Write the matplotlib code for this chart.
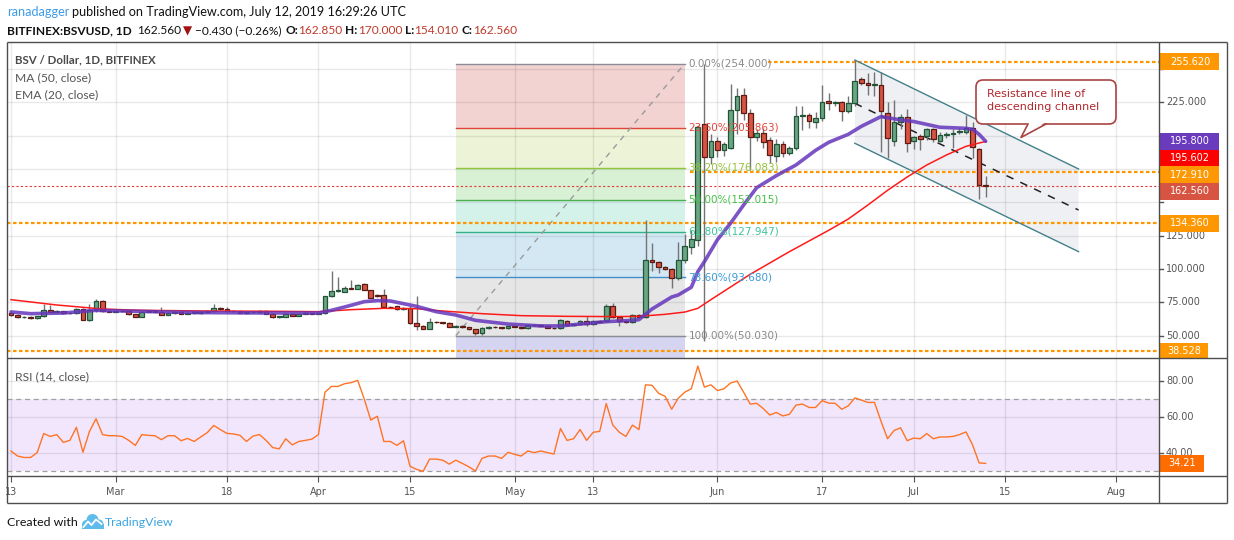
import numpy as np
import pandas as pd
import matplotlib
matplotlib.use("Agg")
import matplotlib.pyplot as plt
import matplotlib.dates as mdates
from matplotlib.patches import Rectangle, Polygon, FancyBboxPatch, Circle

# BITFINEX:BSVUSD, 1D candles
dates = pd.date_range("2019-02-13", "2019-07-12", freq="D")
opens = [67.0, 65.5, 63.8, 64.0, 63.0, 64.5, 69.0, 68.0, 68.3, 66.8,
         67.0, 70.0, 61.5, 69.0, 76.0, 68.5, 68.0, 68.5, 68.3, 66.0,
         64.2, 68.0, 68.1, 68.0, 65.8, 67.0, 68.0, 66.3, 67.0, 67.2,
         67.5, 68.5, 70.5, 70.0, 68.5, 68.3, 67.3, 67.5, 67.6, 68.5,
         66.5, 64.0, 64.2, 66.5, 65.0, 66.5, 66.6, 66.5, 67.0, 79.5,
         83.3, 83.0, 85.5, 85.3, 88.5, 84.0, 80.5, 80.5, 71.5, 72.0,
         70.0, 71.0, 59.5, 57.5, 55.3, 60.3, 60.0, 59.8, 56.8, 57.5,
         56.3, 54.8, 51.8, 55.5, 56.5, 56.2, 55.5, 57.0, 56.8, 55.5,
         57.8, 58.0, 57.3, 56.0, 55.5, 61.3, 58.0, 58.5, 61.3, 58.5,
         61.3, 61.0, 72.0, 64.0, 61.3, 60.3, 65.3, 63.8, 106.8, 105.3,
         101.5, 99.8, 93.0, 106.8, 116.5, 122.0, 208.5, 183.8, 196.3, 189.3,
         190.8, 219.0, 230.3, 217.0, 198.8, 202.3, 196.5, 185.0, 194.0, 186.8,
         190.5, 214.5, 215.5, 210.5, 213.0, 226.3, 224.3, 225.5, 218.8, 224.3,
         242.3, 239.3, 238.0, 238.0, 217.3, 196.3, 210.5, 214.3, 196.3, 199.8,
         199.8, 204.8, 196.3, 200.5, 201.0, 203.0, 203.0, 205.5, 189.8, 162.85]
highs = [68.0, 66.0, 64.5, 64.5, 65.0, 74.0, 73.0, 69.0, 68.5, 67.5,
         70.5, 71.0, 73.5, 77.5, 77.0, 69.0, 69.0, 69.0, 68.8, 66.5,
         68.5, 68.5, 68.5, 71.5, 68.0, 69.5, 68.5, 67.5, 67.5, 68.0,
         69.0, 73.5, 71.5, 71.5, 69.0, 68.5, 68.5, 68.0, 69.0, 69.0,
         67.0, 65.0, 67.0, 67.0, 67.0, 68.5, 67.0, 67.5, 80.0, 98.5,
         94.0, 87.5, 91.5, 89.0, 89.5, 84.5, 81.5, 85.0, 72.0, 72.5,
         71.5, 72.0, 80.0, 58.0, 63.0, 61.0, 60.5, 60.0, 58.0, 58.0,
         56.8, 55.0, 56.5, 57.0, 57.0, 56.8, 57.5, 57.5, 57.5, 58.5,
         58.5, 58.5, 57.8, 56.5, 62.5, 62.0, 59.0, 62.0, 64.5, 62.0,
         62.0, 73.5, 74.5, 65.0, 62.0, 66.0, 66.0, 136.5, 119.5, 106.0,
         102.5, 100.5, 120.0, 126.5, 129.0, 208.0, 254.0, 201.0, 199.0, 195.0,
         239.0, 236.0, 236.0, 220.0, 205.0, 206.0, 199.0, 197.5, 196.0, 192.0,
         222.0, 222.0, 217.0, 218.0, 238.0, 232.0, 226.0, 226.0, 229.5, 256.8,
         244.0, 246.8, 248.0, 248.0, 225.5, 227.0, 216.0, 220.0, 200.0, 201.0,
         206.0, 206.0, 203.0, 203.0, 205.0, 205.5, 215.5, 210.5, 191.0, 170.0]
lows = [65.0, 63.5, 63.0, 62.5, 62.5, 64.0, 67.5, 67.0, 66.5, 66.0,
        66.5, 61.5, 61.0, 68.0, 68.0, 67.5, 67.5, 67.8, 65.8, 64.0,
        64.0, 67.5, 67.5, 65.5, 65.5, 66.5, 66.0, 66.0, 66.5, 66.5,
        67.0, 68.0, 69.5, 68.0, 67.5, 67.0, 66.5, 67.0, 67.0, 66.0,
        63.5, 63.0, 64.0, 64.5, 64.5, 66.0, 66.0, 66.0, 66.0, 79.0,
        83.0, 82.5, 85.0, 85.0, 84.0, 78.0, 79.0, 71.0, 71.0, 69.5,
        69.5, 58.5, 54.0, 55.0, 55.0, 59.5, 58.5, 56.5, 56.5, 56.0,
        54.5, 50.5, 50.8, 55.0, 55.8, 55.0, 55.0, 56.5, 55.0, 55.0,
        57.0, 57.0, 55.5, 55.0, 55.0, 57.5, 57.0, 58.0, 57.5, 58.0,
        60.0, 60.5, 63.5, 57.5, 59.5, 59.8, 63.0, 63.0, 98.5, 97.0,
        99.0, 86.0, 92.0, 104.5, 111.0, 117.0, 46.0, 179.0, 184.0, 185.0,
        190.0, 201.0, 212.0, 174.0, 196.0, 190.5, 179.5, 180.5, 184.0, 185.5,
        189.0, 204.0, 205.5, 206.0, 211.0, 219.0, 222.0, 211.0, 217.0, 222.0,
        238.0, 230.5, 229.8, 188.0, 183.0, 192.0, 205.0, 188.0, 190.0, 189.3,
        197.0, 195.0, 195.0, 198.0, 190.5, 201.0, 201.0, 183.0, 152.3, 154.01]
closes = [65.5, 63.8, 64.0, 63.0, 64.5, 69.0, 68.0, 68.3, 66.8, 67.0,
          70.0, 62.0, 69.0, 76.0, 68.5, 68.0, 68.5, 68.3, 66.0, 64.2,
          68.0, 68.1, 68.0, 65.8, 67.0, 68.0, 66.3, 67.0, 67.2, 67.5,
          68.5, 70.5, 70.0, 68.5, 68.3, 67.3, 67.5, 67.6, 68.5, 66.5,
          64.0, 64.2, 66.5, 65.0, 66.5, 66.6, 66.5, 67.3, 79.5, 83.3,
          84.0, 85.5, 85.3, 88.0, 84.5, 78.5, 79.5, 71.5, 71.4, 70.0,
          71.0, 59.3, 57.5, 55.3, 60.3, 60.0, 59.8, 56.8, 57.5, 56.3,
          54.8, 51.8, 55.5, 56.5, 56.2, 55.5, 57.0, 56.8, 55.5, 57.8,
          58.0, 57.3, 56.0, 55.5, 61.8, 58.0, 58.5, 61.3, 58.5, 61.3,
          60.5, 72.0, 64.0, 61.3, 60.3, 65.3, 63.8, 106.8, 105.5, 101.3,
          99.8, 93.0, 106.5, 117.0, 122.8, 206.5, 183.8, 196.3, 189.3, 193.5,
          219.3, 229.8, 217.0, 198.8, 202.3, 195.0, 185.5, 193.5, 186.8, 191.0,
          214.5, 215.5, 211.0, 213.0, 225.5, 224.3, 225.5, 218.8, 224.3, 241.3,
          239.8, 238.0, 238.2, 218.8, 198.0, 210.5, 214.3, 194.3, 199.3, 197.3,
          204.8, 197.3, 200.5, 200.5, 201.8, 203.1, 205.5, 191.8, 162.85, 162.56]

# RSI (14, close), one value per candle
rsi = [41.1, 38.3, 37.5, 37.5, 40.2, 50.8, 49.2, 50.2, 45.9, 47.0,
       54.3, 40.4, 52.0, 59.0, 50.2, 49.6, 49.6, 49.2, 47.0, 44.2,
       50.2, 49.8, 49.6, 47.4, 49.6, 49.6, 46.8, 48.1, 46.4, 48.9,
       51.3, 55.3, 53.0, 50.9, 50.6, 49.8, 46.4, 49.4, 50.2, 47.0,
       43.0, 42.3, 47.9, 44.5, 46.4, 47.0, 47.7, 50.2, 73.8, 77.0,
       77.0, 78.5, 79.1, 80.4, 70.0, 58.3, 60.4, 46.4, 46.4, 44.2,
       46.8, 32.6, 30.9, 29.8, 36.6, 36.6, 36.0, 33.8, 36.0, 34.2,
       32.3, 30.0, 37.0, 38.3, 38.3, 37.0, 40.4, 39.2, 38.3, 41.1,
       40.2, 41.1, 40.2, 39.4, 53.6, 47.0, 47.9, 53.0, 47.0, 51.5,
       52.0, 67.5, 55.5, 51.5, 49.2, 55.5, 53.0, 77.9, 77.6, 73.2,
       71.5, 64.3, 70.4, 73.8, 75.7, 88.3, 76.6, 77.9, 74.7, 75.7,
       78.9, 80.0, 73.8, 67.2, 67.6, 64.7, 61.1, 62.5, 60.6, 61.5,
       66.6, 67.2, 65.3, 65.3, 69.1, 67.7, 67.6, 64.3, 66.2, 70.6,
       69.4, 68.1, 68.1, 57.7, 47.9, 52.5, 54.0, 46.8, 48.3, 47.9,
       50.8, 47.9, 48.9, 48.9, 49.2, 50.2, 51.7, 44.5, 34.5, 34.21]

# EMA (20) and MA (50) read as vertices, day offset from first candle
ema_day = [0, 3, 8, 13, 19, 29, 39, 47, 49, 52, 54, 56, 58, 60, 62, 65, 68, 71,
           76, 81, 84, 87, 91, 95, 96, 97, 98, 101, 102, 104, 105, 106, 108, 110,
           112, 114, 117, 120, 123, 125, 128, 130, 133, 136, 138, 142, 146, 147,
           148, 149]
ema_val = [67.8, 66.5, 67.0, 69.0, 68.3, 67.3, 67.0, 67.0, 69.0, 72.8, 75.5, 76.3,
           76.0, 74.0, 72.0, 68.0, 65.5, 61.5, 58.7, 57.3, 57.3, 58.7, 60.5, 61.5,
           62.0, 66.0, 70.0, 79.0, 80.5, 86.3, 98.0, 105.5, 122.0, 134.3, 148.0,
           161.0, 170.0, 178.0, 189.0, 195.0, 201.0, 207.0, 214.3, 211.8, 210.6,
           206.3, 205.5, 204.8, 201.0, 195.8]
ma_day = [0, 7, 14, 20, 30, 40, 47, 52, 57, 62, 66, 72, 78, 85, 92, 96, 100, 103,
          105, 107, 110, 113, 116, 119, 122, 125, 128, 131, 134, 137, 140, 143,
          146, 148, 149]
ma_val = [77.0, 73.0, 70.0, 69.0, 68.5, 68.3, 68.0, 69.5, 70.5, 70.2, 68.5, 66.5,
          65.0, 64.5, 64.3, 64.5, 66.0, 67.7, 70.5, 77.0, 86.5, 96.0, 104.5, 113.0,
          121.0, 129.0, 137.5, 148.0, 159.0, 169.0, 178.0, 185.5, 192.0, 194.5, 195.6]

# Fibonacci retracement drawn 50.030 -> 254.000
fib_start, fib_end = "2019-04-22", "2019-05-27"
fib_pct = ["0.00%", "23.60%", "38.20%", "50.00%", "61.80%", "78.60%", "100.00%"]
fib_price = [254.0, 205.863, 176.083, 152.015, 127.947, 93.68, 50.03]
fib_line_col = ["#8a8d96", "#e0453a", "#8fc43e", "#4caf50", "#34b38a", "#3e8fcb", "#8a8d96"]
fib_text_col = ["#8a8a8a", "#e0453a", "#94c13b", "#45c046", "#3cc49c", "#3a9ad9", "#8a8a8a"]
fib_fill = ["#f3d2d2", "#ecf3d6", "#d8f1d4", "#d4f2ea", "#d4e8f3", "#e6e6e6", "#d6d5f1"]

# horizontal support / resistance levels (None = whole width)
levels = [255.62, 172.91, 134.36, 38.528]
level_from = ["2019-06-08 17:00", "2019-05-27 19:00", None, None]
last_price = 162.56

# descending channel
ch_start, ch_end = "2019-06-22 00:00", "2019-07-26 05:00"
ch_upper = [256.75, 175.0]
ch_lower = [194.3, 113.0]
ch_mid = [224.25, 144.25]

# x axis
tick_dates = ["2019-02-13", "2019-03-01", "2019-03-18", "2019-04-01", "2019-04-15",
              "2019-05-01", "2019-05-13", "2019-06-01", "2019-06-17", "2019-07-01",
              "2019-07-15", "2019-08-01"]
tick_labels = ["13", "Mar", "18", "Apr", "15", "May", "13", "Jun", "17", "Jul", "15", "Aug"]

# right scale badges
badge_vals = [255.62, 195.8, 195.602, 172.91, 162.56, 134.36, 38.528]
badge_cols = ["#ff9800", "#6a3bbd", "#ff0000", "#ff9800", "#d65441", "#ff9800", "#ff9800"]
rsi_last = 34.21

assert len(opens) == len(highs) == len(lows) == len(closes) == len(rsi) == len(dates)

W, H = 1234, 540
fig = plt.figure(figsize=(W / 100, H / 100), dpi=100, facecolor="white")


def px_axes(x0, y0, x1, y1):
    a = fig.add_axes([x0 / W, 1 - y1 / H, (x1 - x0) / W, (y1 - y0) / H])
    for s in a.spines.values():
        s.set_visible(False)
    return a


def dnum(s):
    return mdates.date2num(pd.Timestamp(s))


ax = px_axes(7, 42, 1159, 358)
rax = px_axes(7, 358, 1159, 476)
pscale = px_axes(1159, 42, 1227, 358)
rscale = px_axes(1159, 358, 1227, 476)
ov = fig.add_axes([0, 0, 1, 1])
ov.set_xlim(0, W)
ov.set_ylim(H, 0)
ov.axis("off")
ov.patch.set_alpha(0)
ov.set_zorder(10)

x = mdates.date2num(dates)
x0 = x[0]
xlim = (x0 - 0.61, x0 + 175.5)
p_lim = (33.25, 270.25)
r_lim = (27.2, 92.8)
for a in (ax, rax):
    a.set_xlim(*xlim)
    a.set_yticks([])
ax.set_ylim(*p_lim)
rax.set_ylim(*r_lim)
ax.set_xticks([])

grid_kw = dict(color="black", alpha=0.085, lw=1, zorder=0.8)
tx = [dnum(t) for t in tick_dates]
for t in tx:
    ax.axvline(t, **grid_kw)
    rax.axvline(t, **grid_kw)
for v in range(50, 251, 25):
    ax.axhline(v, **grid_kw)
for v in (40, 60, 80):
    rax.axhline(v, **grid_kw)

# fibonacci box
fx0, fx1 = dnum(fib_start), dnum(fib_end)
bands = fib_price + [p_lim[0] - 5]
for i, col in enumerate(fib_fill):
    ax.fill_between([fx0, fx1], bands[i + 1], bands[i], color=col, lw=0, zorder=0.6)
for pct, p, lc, tc in zip(fib_pct, fib_price, fib_line_col, fib_text_col):
    ax.plot([fx0, fx1], [p, p], color=lc, lw=1, zorder=1)
    ax.text(fx1 + 0.55, p, f"{pct}({p:.3f})", color=tc, fontsize=7.5,
            va="center", ha="left", zorder=7)
ax.plot([fx0, fx1], [fib_price[-1], fib_price[0]], color="#9a9a9a", lw=1,
        dashes=(4, 4), zorder=1)

# levels
for lv, start in zip(levels, level_from):
    s = xlim[0] if start is None else dnum(start)
    ax.plot([s, xlim[1]], [lv, lv], color="#ff9800", lw=1.6, dashes=(1.6, 1.1), zorder=2)
ax.axhline(last_price, color="#e53935", lw=0.8, dashes=(2, 2), zorder=2)

# channel
cx = [dnum(ch_start), dnum(ch_end)]
ax.add_patch(Polygon([(cx[0], ch_upper[0]), (cx[1], ch_upper[1]),
                      (cx[1], ch_lower[1]), (cx[0], ch_lower[0])],
                     closed=True, fc="#eef0f3", ec="none", zorder=0.6))
ax.plot(cx, ch_upper, color="#44808a", lw=1, zorder=2.5)
ax.plot(cx, ch_lower, color="#44808a", lw=1, zorder=2.5)
ax.plot(cx, ch_mid, color="#222222", lw=1.1, dashes=(5, 5), zorder=2.5)

# candles
o, h, l, c = map(np.array, (opens, highs, lows, closes))
up = c >= o
lo = np.minimum(o, c)
hgt = np.maximum(np.abs(c - o), 0.4)
ax.vlines(x, l, h, color="#737375", lw=1, zorder=4)
ax.bar(x[up], hgt[up], bottom=lo[up], width=0.72, color="#6ba583",
       edgecolor="#225437", linewidth=0.9, zorder=5)
ax.bar(x[~up], hgt[~up], bottom=lo[~up], width=0.72, color="#d75442",
       edgecolor="#5b1a13", linewidth=0.9, zorder=5)

# moving averages
ax.plot(x0 + np.array(ma_day), ma_val, color="#ff1a1a", lw=1.1, zorder=6)
ax.plot(x0 + np.array(ema_day), ema_val, color="#6536bb", lw=2.6, alpha=0.85,
        zorder=6, solid_capstyle="round")

# RSI pane
rax.fill_between(list(xlim), 30, 70, color="#b070f0", alpha=0.17, lw=0, zorder=0.5)
for v in (30, 70):
    rax.axhline(v, color="#a0a0a0", lw=0.9, dashes=(4, 3), zorder=1)
rax.plot(x, rsi, color="#ff7424", lw=1, zorder=3)
rax.set_xticks(tx)
rax.set_xticklabels(tick_labels)
rax.tick_params(axis="x", length=4, color="#555555", labelcolor="#555555",
                labelsize=7, pad=4)

# right price scale: badges first, then only the tick labels they do not cover
pscale.set_xlim(0, 68)
pscale.set_ylim(*p_lim)
pscale.set_xticks([])
pscale.set_yticks([])
gap = 12.5
half = 6.3
shown = []
for v in badge_vals:
    y = v if not shown else min(v, shown[-1] - gap)
    shown.append(y)
for v, y, col in zip(badge_vals, shown, badge_cols):
    txt = f"{v:.3f}"
    w = 60 if len(txt) > 6 else 49
    pscale.add_patch(Rectangle((0, y - half), w, 2 * half, fc=col, ec="none", zorder=5))
    pscale.text(w / 2 + 1, y, txt, color="white", fontsize=7, ha="center",
                va="center", zorder=6)
for v in range(50, 251, 25):
    pscale.plot([0, 4], [v, v], color="#555555", lw=1)
    if any(abs(v - y) < half + 2.5 for y in shown):
        continue
    pscale.text(7, v, f"{v:.3f}", fontsize=7, color="#555555", va="center")

rscale.set_xlim(0, 68)
rscale.set_ylim(*r_lim)
rscale.set_xticks([])
rscale.set_yticks([])
for v in (40, 60, 80):
    rscale.plot([0, 4], [v, v], color="#555555", lw=1)
    rscale.text(7, v, f"{v:.2f}", fontsize=7, color="#555555", va="center")
rscale.add_patch(Rectangle((0, rsi_last - 4.6), 45, 9.2, fc="#ff6d00", ec="none", zorder=5))
rscale.text(23, rsi_last, f"{rsi_last:.2f}", color="white", fontsize=7,
            ha="center", va="center", zorder=6)

# frame
fc = "#4d4d4d"
for (xa, ya, xb, yb) in [(7, 42, 1227, 42), (7, 42, 7, 503), (7, 503, 1227, 503),
                         (1227, 42, 1227, 503), (1159, 42, 1159, 503),
                         (7, 358, 1227, 358), (7, 476, 1227, 476)]:
    ov.plot([xa, xb], [ya, yb], color=fc, lw=1, solid_capstyle="butt")

# callout
ov.add_patch(FancyBboxPatch((976, 80), 140, 44, boxstyle="round,pad=0,rounding_size=7",
                            fc="white", ec="#a94442", lw=1.2))
ov.add_patch(Polygon([(1028, 122), (1021, 137.5), (1046, 122)], closed=True,
                     fc="white", ec="none"))
ov.plot([1028, 1021, 1046], [124, 137.5, 124], color="#a94442", lw=1.2)
ov.text(987, 94, "Resistance line of", color="#b0282d", fontsize=8, va="center")
ov.text(987, 107.5, "descending channel", color="#b0282d", fontsize=8, va="center")

# header and legends
fam = ["Lato", "DejaVu Sans"]
renderer = fig.canvas.get_renderer()


def text_run(xp, yp, parts, size):
    for s, col, wt, gap_px in parts:
        t = ov.text(xp, yp, s, color=col, fontweight=wt, fontsize=size,
                    family=fam, va="center", ha="left")
        xp += t.get_window_extent(renderer=renderer).width + gap_px


text_run(7, 12, [("ranadagger", "#3d9be9", "normal", 3),
                 ("published on TradingView.com, July 12, 2019 16:29:26 UTC", "#111111", "normal", 0)], 9.1)
red = "#c0392b"
text_run(7, 31, [("BITFINEX:BSVUSD, 1D", "#111111", "bold", 5),
                 ("162.560", "#111111", "normal", 2),
                 ("\u25bc", "#a01010", "normal", 3),
                 ("\u22120.430 (\u22120.26%)", "#111111", "normal", 4),
                 ("O:", "#111111", "bold", 0), ("162.850", red, "normal", 3),
                 ("H:", "#111111", "bold", 0), ("170.000", red, "normal", 3),
                 ("L:", "#111111", "bold", 0), ("154.010", red, "normal", 3),
                 ("C:", "#111111", "bold", 0), ("162.560", red, "normal", 0)], 8.6)

ov.text(15, 60, "BSV / Dollar, 1D, BITFINEX", color="#4a4a4a", fontweight="bold",
        fontsize=8.3, family=fam, va="center")
ov.text(15, 78, "MA (50, close)", color="#555555", fontsize=8.7, family=fam, va="center")
ov.text(15, 95, "EMA (20, close)", color="#555555", fontsize=8.7, family=fam, va="center")
ov.text(15, 377, "RSI (14, close)", color="#555555", fontsize=8.7, family=fam, va="center")

# footer
ov.text(7, 522, "Created with", color="#111111", fontsize=8.9, family=fam, va="center")
logo = "#5fbcea"
for cxp, cyp, rr in [(86.5, 524.5, 4.5), (92.5, 520.0, 6.0), (99.0, 524.0, 4.5)]:
    ov.add_patch(Circle((cxp, cyp), rr, fc=logo, ec="none"))
ov.add_patch(Rectangle((82, 524), 21.5, 5, fc=logo, ec="none"))
ov.plot([83.5, 88, 91.5, 96, 101.5], [527, 521.5, 525, 519.5, 524], color="white", lw=1.3)
ov.text(105, 522, "TradingView", color="#3ba5e0", fontsize=8.9, family=fam, va="center")

fig.savefig("out.png", dpi=100, facecolor="white")
